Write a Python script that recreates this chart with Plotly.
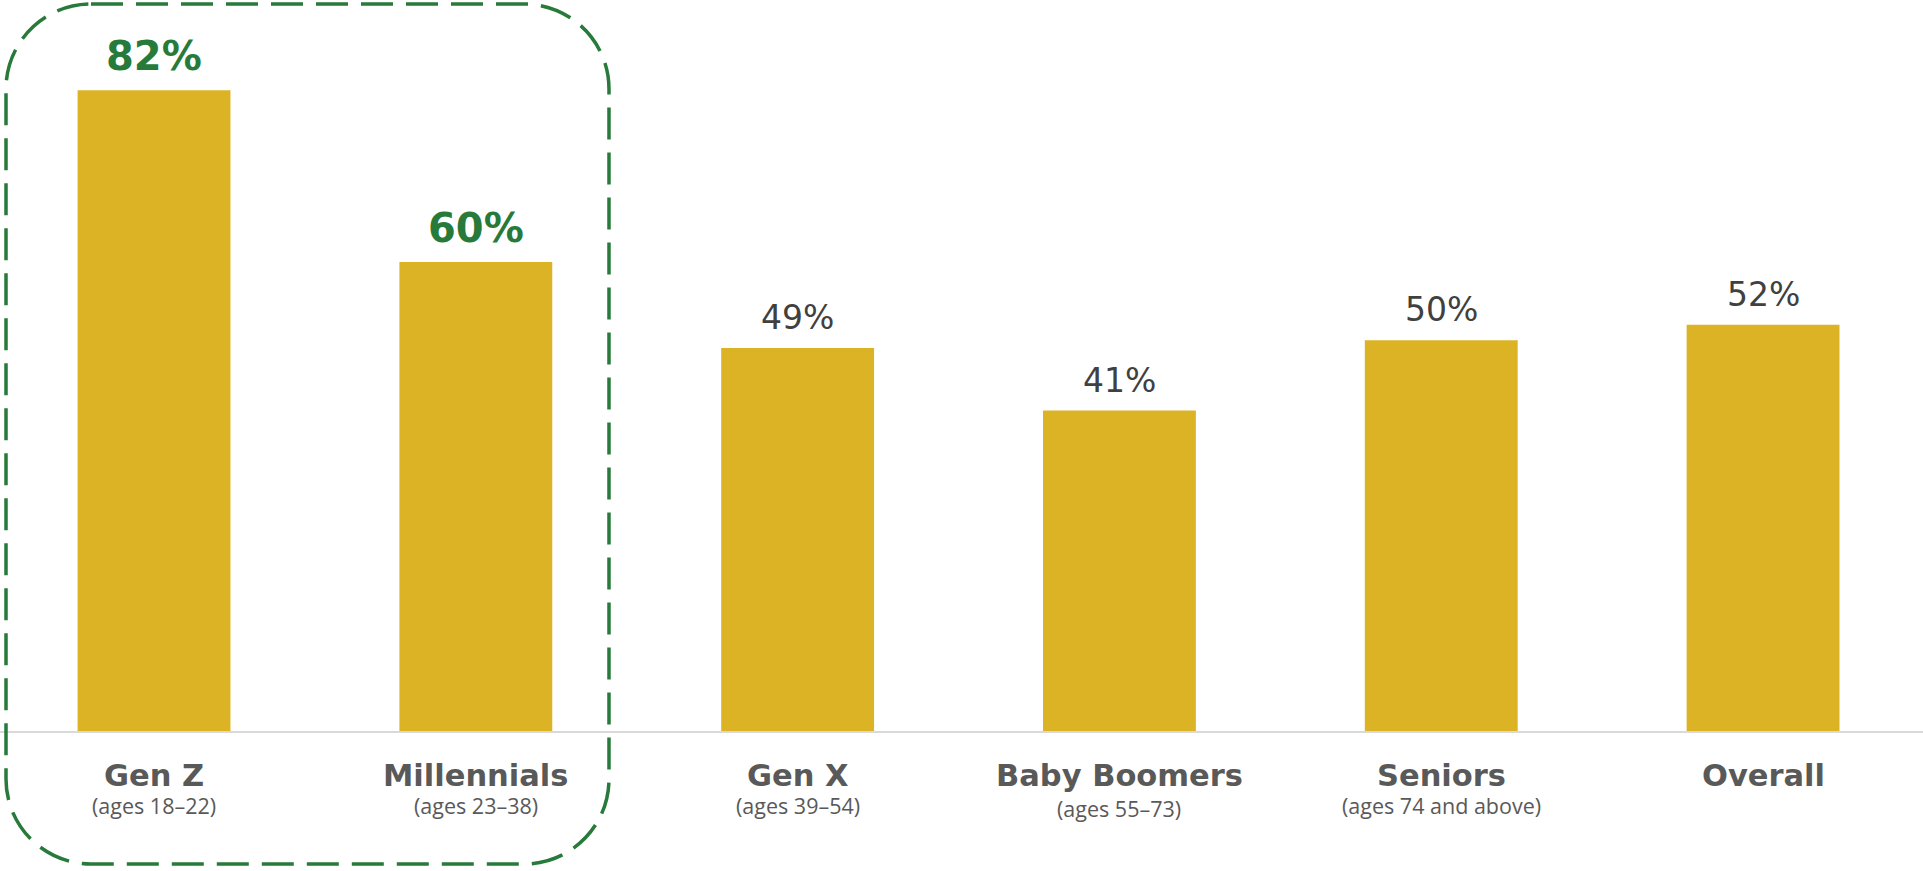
import plotly.graph_objects as go

# Share of respondents by generation
generations = ["Gen Z", "Millennials", "Gen X", "Baby Boomers", "Seniors", "Overall"]
age_ranges = ["(ages 18–22)", "(ages 23–38)", "(ages 39–54)", "(ages 55–73)",
              "(ages 74 and above)", ""]
shares = [82, 60, 49, 41, 50, 52]
highlighted = [True, True, False, False, False, False]

W, H = 1923, 871
PLOT_H = 731  # height of the plotting area (baseline sits at this pixel row)

BAR_COLOR = "#DCB324"
GREEN = "#277A3A"
LABEL_GREY = "#595959"
VALUE_GREY = "#404040"

xs = list(range(len(generations)))

fig = go.Figure(
    go.Bar(
        x=xs,
        y=shares,
        width=0.475,
        marker=dict(color=BAR_COLOR, line=dict(width=0)),
        hoverinfo="skip",
    )
)

annotations = []
for x, v, hi in zip(xs, shares, highlighted):
    annotations.append(dict(
        x=x, y=v, xref="x", yref="y",
        text=f"<b>{v}%</b>" if hi else f"{v}%",
        showarrow=False, yanchor="bottom", yshift=9,
        font=dict(family="DejaVu Sans", size=40 if hi else 33,
                  color=GREEN if hi else VALUE_GREY),
    ))

for x, name, ages in zip(xs, generations, age_ranges):
    annotations.append(dict(
        x=x, y=0, xref="x", yref="y",
        text=f"<b>{name}</b>", showarrow=False,
        yanchor="top", yshift=-25,
        font=dict(family="DejaVu Sans", size=30.5, color=LABEL_GREY),
    ))
    if ages:
        # a descender in the name line pushes the age line down a little
        drop = 3 if any(c in name for c in "gjpqy") else 0
        annotations.append(dict(
            x=x, y=0, xref="x", yref="y",
            text=ages, showarrow=False,
            yanchor="top", yshift=-58 - drop,
            font=dict(family="Open Sans", size=21.5, color=LABEL_GREY),
        ))


def rounded_rect_path(left, top, right, bottom, r):
    """Rounded rectangle given in page pixels, returned as a paper-space path."""
    k = 0.5523 * r

    def p(x, y):
        return f"{x / W:.5f},{(PLOT_H - y) / PLOT_H:.5f}"

    return (
        f"M {p(left + r, top)} L {p(right - r, top)} "
        f"C {p(right - r + k, top)} {p(right, top + r - k)} {p(right, top + r)} "
        f"L {p(right, bottom - r)} "
        f"C {p(right, bottom - r + k)} {p(right - r + k, bottom)} {p(right - r, bottom)} "
        f"L {p(left + r, bottom)} "
        f"C {p(left + r - k, bottom)} {p(left, bottom - r + k)} {p(left, bottom - r)} "
        f"L {p(left, top + r)} "
        f"C {p(left, top + r - k)} {p(left + r - k, top)} {p(left + r, top)} Z"
    )


# Dashed frame around the two youngest generations
shapes = [dict(
    type="path", xref="paper", yref="paper",
    path=rounded_rect_path(6, 4, 609, 864, 85),
    line=dict(color=GREEN, width=3.5, dash="32px,13px"),
    fillcolor="rgba(0,0,0,0)",
    layer="above",
)]

fig.update_layout(
    width=W, height=H,
    margin=dict(l=0, r=0, t=0, b=H - PLOT_H, pad=0),
    paper_bgcolor="white", plot_bgcolor="white",
    showlegend=False,
    xaxis=dict(
        range=[-0.4786, 5.497], showticklabels=False, ticks="",
        showgrid=False, zeroline=False,
        showline=True, linecolor="#D9D9D9", linewidth=2,
        fixedrange=True,
    ),
    yaxis=dict(
        range=[0, 93.54], visible=False, showgrid=False, zeroline=False,
        fixedrange=True,
    ),
    annotations=annotations,
    shapes=shapes,
)

fig.write_html("out.html", config={"displayModeBar": False})
